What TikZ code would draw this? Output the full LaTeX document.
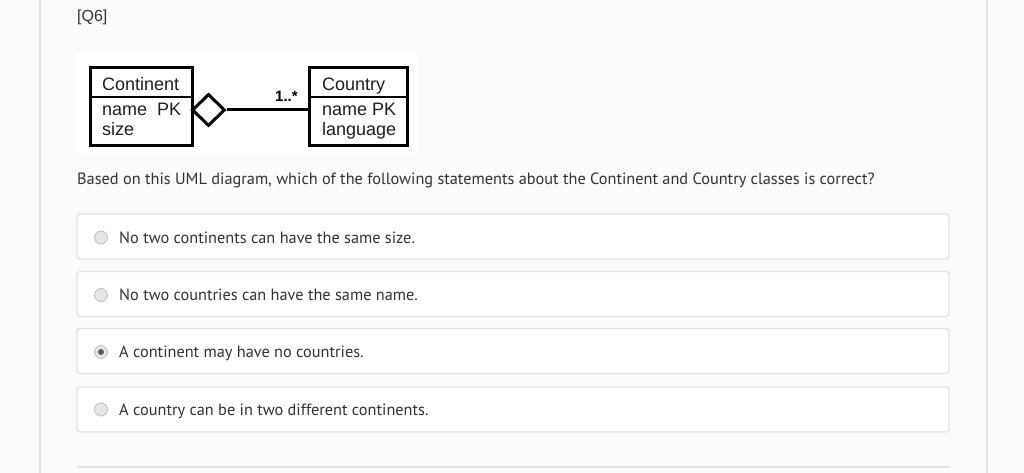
\documentclass[tikz,border=0pt]{standalone}
\usepackage{fontspec}
\setmainfont{Liberation Sans}
\newfontfamily\qfont{PT Sans}
\usetikzlibrary{shapes.geometric}
\definecolor{pagebg}{HTML}{FAFCFC}
\definecolor{sidegray}{HTML}{E4E6E6}
\definecolor{boxgray}{HTML}{E2E4E4}
\definecolor{qtext}{HTML}{333333}
\definecolor{umltext}{HTML}{1E1E28}
\tikzset{
  umlbox/.style={draw=black, line width=3pt, fill=white, inner sep=0pt},
  divider/.style={draw=black, line width=1.8pt},
  umllabel/.style={anchor=base west, inner sep=0pt, text=umltext, font=\fontsize{18}{20}\selectfont},
  optbox/.style={draw=boxgray, line width=1.4pt, fill=white, rounded corners=3pt, minimum width=872pt, minimum height=45pt, inner sep=0pt},
  opttext/.style={anchor=base west, inner sep=0pt, text=qtext, font=\qfont\fontsize{16.3}{19}\selectfont},
  radio/.style={circle, draw=black!25, fill=black!10, line width=0.8pt, minimum size=13pt, inner sep=0pt},
  assoc/.style={draw=black, line width=3pt},
}
\begin{document}
\begin{tikzpicture}[x=1pt,y=-1pt]
\useasboundingbox (0,0) rectangle (1024,473);
\fill[pagebg] (0,0) rectangle (1024,473);
\draw[sidegray, line width=1.5pt] (40,0) -- (40,473);
\draw[sidegray, line width=1.5pt] (987,0) -- (987,473);
% title
\node[anchor=base west, inner sep=0pt, text=qtext, font=\fontsize{16}{18}\selectfont] (title) at (77,22) {[Q6]};
% diagram image area
\fill[white] (76,52) rectangle (418,155);
% Continent class
\node[umlbox, minimum width=102pt, minimum height=78pt] (cont) at (141,107) {};
\draw[divider] (90,97) -- (192,97);
\node[umllabel] (contname) at (102,90.5) {Continent};
\node[umllabel] (contpk) at (102,116) {name\ \ PK};
\node[umllabel] (contsize) at (102,136) {size};
% Country class
\node[umlbox, minimum width=98pt, minimum height=78pt] (ctry) at (358,107) {};
\draw[divider] (309,97) -- (407,97);
\node[umllabel] (ctryname) at (322,90.5) {Country};
\node[umllabel] (ctrypk) at (322,116) {name PK};
\node[umllabel] (ctrylang) at (322,136) {language};
% aggregation
\node[diamond, draw=black, line width=3pt, fill=white, minimum width=33pt, minimum height=32pt, inner sep=0pt] (dia) at (208.5,110) {};
\draw[assoc] (dia.east) -- (dia.east -| ctry.west);
\node[anchor=base west, inner sep=0pt, text=black, font=\bfseries\fontsize{15}{17}\selectfont] (mult) at (275,102) {1..*};
% question
\node[anchor=base west, inner sep=0pt, text=qtext, font=\qfont\fontsize{16.3}{19}\selectfont] (question) at (77,185) {Based on this UML diagram, which of the following statements about the Continent and Country classes is correct?};
% options
\node[optbox] (o1) at (513,236.5) {};
\node[optbox] (o2) at (513,294) {};
\node[optbox] (o3) at (513,351) {};
\node[optbox] (o4) at (513,409.5) {};
\node[radio] (r1) at (101,237.5) {};
\node[radio] (r2) at (101,295) {};
\node[radio] (r3) at (101,352) {};
\fill[black!65] (r3) circle (3pt);
\node[radio] (r4) at (101,409.5) {};
\node[opttext] (t1) at (119,243) {No two continents can have the same size.};
\node[opttext] (t2) at (119,300.5) {No two countries can have the same name.};
\node[opttext] (t3) at (119,357.5) {A continent may have no countries.};
\node[opttext] (t4) at (119,415) {A country can be in two different continents.};
% bottom rule
\draw[boxgray, line width=1.5pt] (77,467) -- (950,467);
\end{tikzpicture}
\end{document}
